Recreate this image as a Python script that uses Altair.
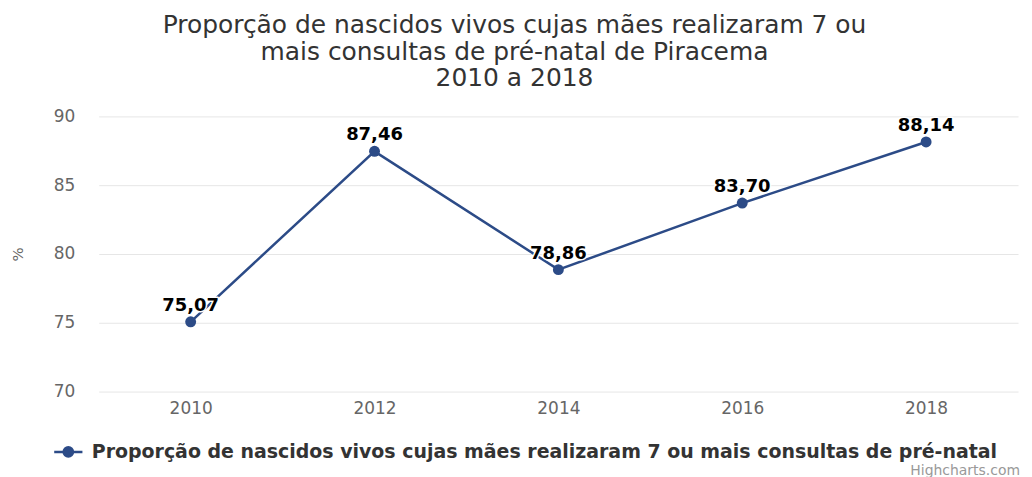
import altair as alt
import pandas as pd

years = ["2010", "2012", "2014", "2016", "2018"]
values = [75.07, 87.46, 78.86, 83.70, 88.14]
labels = ["75,07", "87,46", "78,86", "83,70", "88,14"]
series_name = "Proporção de nascidos vivos cujas mães realizaram 7 ou mais consultas de pré-natal"
title_lines = [
    "Proporção de nascidos vivos cujas mães realizaram 7 ou",
    "mais consultas de pré-natal de Piracema",
    "2010 a 2018",
]
y_ticks = [70, 75, 80, 85, 90]
credit = "Highcharts.com"

df = pd.DataFrame({"ano": years, "valor": values, "rotulo": labels, "serie": series_name})

COLOR = "#2c4b87"
FONT = "DejaVu Sans"

x = alt.X("ano:N", sort=years, title=None,
          scale=alt.Scale(type="point", padding=0.5),
          axis=alt.Axis(labelAngle=0, labelFontSize=17, labelColor="#666666", labelFont=FONT,
                        domain=False, ticks=False, labelPadding=9, grid=False))
y = alt.Y("valor:Q", title="%",
          scale=alt.Scale(domain=[70, 90], nice=False, zero=False),
          axis=alt.Axis(values=y_ticks, labelFontSize=17, labelColor="#666666", labelFont=FONT,
                        domain=False, ticks=False, labelPadding=24, gridColor="#e6e6e6",
                        titleFontSize=15, titleColor="#666666", titleFont=FONT,
                        titleFontWeight="normal", titlePadding=28))

base = alt.Chart(df)

line = base.mark_line(strokeWidth=2.5, color=COLOR).encode(x=x, y=y)
pts = base.mark_point(filled=True, size=120, opacity=1).encode(
    x=x, y=y,
    color=alt.Color("serie:N", scale=alt.Scale(range=[COLOR]),
                    legend=alt.Legend(title=None, orient="none", legendX=-46, legendY=321,
                                      labelFontSize=19, labelFont=FONT, labelFontWeight="bold",
                                      labelColor="#333333", labelLimit=1200, labelOffset=8,
                                      symbolType="M-1,0L1,0M-0.33,0A0.33,0.33 0 1,0 0.33,0A0.33,0.33 0 1,0 -0.33,0",
                                      symbolSize=800, symbolStrokeWidth=2.5,
                                      symbolStrokeColor=COLOR, symbolFillColor=COLOR)))
halo = base.mark_text(dy=-16, fontSize=18, fontWeight="bold", font=FONT, color="white",
                      stroke="white", strokeWidth=3, strokeJoin="round").encode(x=x, y=y, text="rotulo:N")
txt = base.mark_text(dy=-16, fontSize=18, fontWeight="bold", font=FONT, color="#000000").encode(
    x=x, y=y, text="rotulo:N")

cred = alt.Chart(pd.DataFrame({"t": [credit]})).mark_text(
    align="right", baseline="middle", fontSize=14, font=FONT, color="#999999"
).encode(x=alt.value(924), y=alt.value(356), text="t:N")

chart = alt.layer(line, pts, halo, txt, cred).properties(
    width=922, height=276,
    autosize=alt.AutoSizeParams(type="none"),
    padding={"left": 91, "top": 108, "right": 6, "bottom": 90},
    title=alt.TitleParams(text=title_lines, anchor="middle", fontSize=25, font=FONT,
                          fontWeight="normal", color="#333333", lineHeight=27, offset=16,
                          dx=-44),
).configure(background="white").configure_view(stroke=None)

chart.save("out.html", embed_options={"renderer": "svg", "actions": False})
